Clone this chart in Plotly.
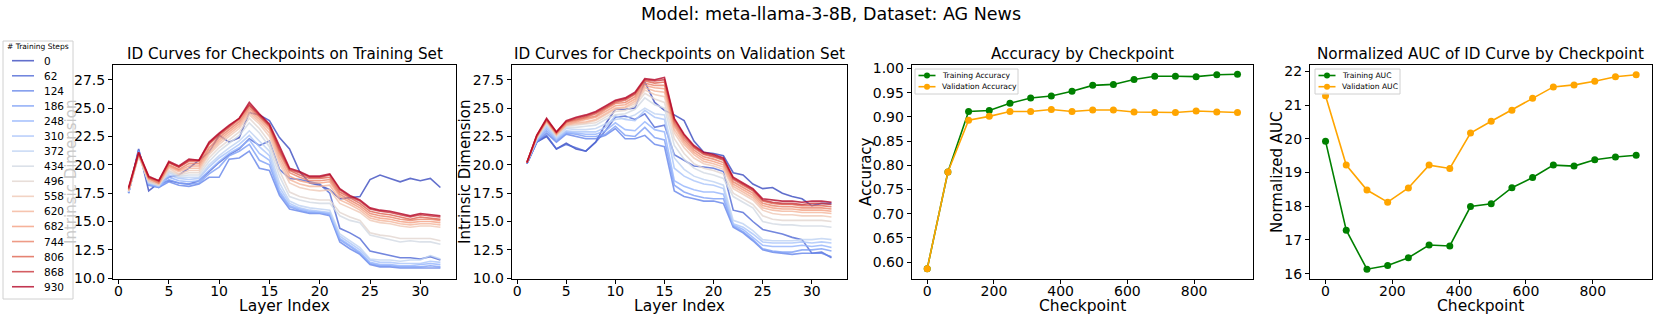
import plotly.graph_objects as go
from plotly.colors import sample_colorscale

W, H = 1661, 332

steps = [0, 62, 124, 186, 248, 310, 372, 434, 496, 558, 620, 682, 744, 806, 868, 930]
layers = list(range(1, 33))

# ID curves, training set (one list per checkpoint)
train_0 = [17.5, 21.4, 17.7, 18.4, 18.9, 19.1, 19.7, 20.4, 21.1, 22.6, 22.0, 22.4, 24.6, 24.4, 23.9, 22.4, 21.4, 19.4, 18.4, 18.2, 17.8, 17.0, 17.1, 17.2, 18.7, 19.1, 18.8, 18.5, 18.8, 18.6, 18.8, 18.0]
train_62 = [17.6, 21.2, 18.5, 18.3, 18.6, 18.4, 18.3, 18.6, 19.4, 20.2, 20.9, 21.4, 22.3, 21.7, 22.1, 19.6, 18.8, 18.7, 18.5, 18.3, 17.5, 14.4, 14.0, 13.5, 12.4, 12.2, 12.0, 11.8, 11.8, 11.7, 11.9, 11.6]
train_124 = [17.5, 21.3, 18.2, 18.0, 18.5, 18.2, 18.1, 18.3, 18.9, 18.9, 20.5, 20.6, 21.2, 19.7, 19.5, 17.3, 16.1, 15.9, 15.7, 15.7, 15.5, 13.2, 12.6, 12.1, 11.2, 11.0, 11.0, 10.9, 10.9, 10.9, 10.9, 10.9]
train_186 = [17.5, 21.2, 18.3, 18.0, 18.7, 18.4, 18.3, 18.4, 19.2, 19.8, 20.8, 21.2, 21.8, 20.4, 20.0, 17.5, 16.3, 16.0, 15.8, 15.8, 15.6, 13.4, 12.8, 12.2, 11.3, 11.1, 11.1, 11.0, 11.0, 11.0, 11.1, 11.0]
train_248 = [17.6, 21.1, 18.3, 18.1, 18.9, 18.6, 18.5, 18.6, 19.5, 20.3, 21.0, 21.5, 22.2, 21.0, 20.4, 17.7, 16.4, 16.1, 15.9, 15.8, 15.7, 13.5, 12.9, 12.3, 11.4, 11.2, 11.2, 11.1, 11.1, 11.2, 11.3, 11.2]
train_310 = [17.6, 21.0, 18.4, 18.1, 19.1, 18.8, 18.7, 18.8, 19.8, 20.6, 21.2, 21.8, 22.6, 21.6, 20.8, 18.0, 16.6, 16.2, 16.0, 15.9, 15.8, 13.7, 13.1, 12.5, 11.6, 11.4, 11.4, 11.3, 11.3, 11.3, 11.5, 11.4]
train_372 = [17.6, 20.9, 18.4, 18.2, 19.3, 18.9, 18.9, 18.9, 20.0, 20.8, 21.5, 22.1, 23.0, 22.1, 21.2, 18.4, 16.8, 16.4, 16.2, 16.1, 16.0, 13.9, 13.3, 12.7, 11.7, 11.6, 11.6, 11.5, 11.6, 11.6, 12.0, 11.7]
train_434 = [17.6, 20.8, 18.5, 18.2, 19.4, 19.0, 19.1, 19.1, 20.3, 21.2, 21.9, 22.6, 23.7, 22.8, 21.6, 19.0, 17.2, 16.9, 16.7, 16.6, 16.6, 15.5, 15.1, 14.9, 13.8, 13.6, 13.4, 13.2, 13.3, 13.2, 13.2, 13.0]
train_496 = [17.7, 20.8, 18.5, 18.2, 19.5, 19.1, 19.3, 19.3, 20.6, 21.5, 22.2, 22.9, 24.1, 23.2, 22.0, 19.5, 17.6, 17.2, 17.0, 16.9, 16.9, 15.8, 15.4, 15.1, 14.0, 13.8, 13.7, 13.5, 13.5, 13.5, 13.5, 13.3]
train_558 = [17.7, 20.8, 18.6, 18.3, 19.7, 19.2, 19.5, 19.5, 20.9, 21.8, 22.5, 23.2, 24.4, 23.6, 22.5, 20.1, 18.4, 18.0, 17.8, 17.7, 17.8, 16.6, 16.2, 15.8, 15.1, 14.9, 14.8, 14.6, 14.5, 14.6, 14.6, 14.5]
train_620 = [17.7, 20.9, 18.7, 18.3, 19.8, 19.4, 19.7, 19.7, 21.1, 22.0, 22.7, 23.4, 24.6, 23.8, 22.8, 20.4, 18.7, 18.3, 18.1, 18.1, 18.2, 16.9, 16.5, 16.0, 15.3, 15.1, 15.0, 14.8, 14.7, 14.8, 14.8, 14.7]
train_682 = [17.8, 20.9, 18.8, 18.4, 19.9, 19.5, 19.9, 19.9, 21.3, 22.2, 22.9, 23.6, 24.8, 24.0, 23.1, 20.7, 19.0, 18.6, 18.4, 18.4, 18.5, 17.2, 16.7, 16.2, 15.5, 15.3, 15.2, 15.0, 14.9, 15.0, 15.0, 14.9]
train_744 = [17.8, 21.0, 18.8, 18.4, 20.0, 19.6, 20.1, 20.1, 21.5, 22.4, 23.1, 23.8, 25.0, 24.2, 23.3, 21.0, 19.3, 18.9, 18.6, 18.6, 18.7, 17.4, 16.9, 16.4, 15.7, 15.5, 15.4, 15.2, 15.1, 15.2, 15.2, 15.1]
train_806 = [17.9, 21.0, 18.9, 18.5, 20.2, 19.8, 20.3, 20.3, 21.8, 22.6, 23.3, 24.0, 25.2, 24.3, 23.4, 21.2, 19.5, 19.1, 18.8, 18.8, 18.9, 17.6, 17.1, 16.6, 15.9, 15.7, 15.6, 15.4, 15.2, 15.4, 15.3, 15.2]
train_868 = [17.9, 21.1, 18.9, 18.6, 20.2, 19.8, 20.4, 20.4, 21.9, 22.7, 23.4, 24.1, 25.3, 24.4, 23.5, 21.4, 19.6, 19.3, 18.9, 18.9, 19.1, 17.8, 17.2, 16.8, 16.1, 15.9, 15.8, 15.6, 15.4, 15.6, 15.5, 15.4]
train_930 = [18.0, 21.1, 19.0, 18.6, 20.3, 19.9, 20.5, 20.4, 22.0, 22.8, 23.5, 24.1, 25.5, 24.5, 23.6, 21.6, 19.7, 19.4, 19.0, 19.0, 19.2, 17.9, 17.3, 16.9, 16.2, 16.0, 15.9, 15.7, 15.5, 15.7, 15.6, 15.5]

# ID curves, validation set
val_0 = [20.1, 22.0, 22.5, 21.4, 21.9, 21.4, 21.2, 22.0, 23.6, 24.9, 24.9, 25.0, 27.3, 25.5, 24.8, 24.4, 23.9, 22.1, 21.1, 21.0, 20.8, 19.3, 19.1, 18.3, 17.9, 18.0, 17.5, 17.2, 17.0, 16.4, 16.6, 16.6]
val_62 = [20.1, 22.0, 22.6, 21.4, 21.8, 21.5, 21.2, 22.0, 23.0, 24.2, 24.3, 24.0, 24.5, 23.3, 23.5, 20.9, 20.4, 19.9, 19.8, 19.7, 19.4, 16.0, 15.8, 15.0, 14.3, 14.1, 13.9, 13.6, 13.4, 12.2, 12.3, 11.8]
val_124 = [20.1, 22.0, 22.8, 22.0, 22.7, 22.5, 22.3, 22.3, 22.6, 23.2, 22.3, 22.3, 22.6, 21.8, 21.6, 17.7, 17.2, 17.0, 16.8, 16.8, 16.6, 14.5, 14.0, 13.3, 12.5, 12.3, 12.2, 12.1, 12.2, 12.2, 12.2, 11.9]
val_186 = [20.1, 22.1, 23.0, 22.1, 22.8, 22.7, 22.5, 22.5, 22.7, 23.4, 22.6, 22.5, 23.3, 22.4, 22.2, 18.2, 17.6, 17.3, 17.1, 17.0, 17.0, 14.6, 14.1, 13.4, 12.6, 12.4, 12.3, 12.3, 12.5, 12.5, 12.6, 12.4]
val_248 = [20.2, 22.1, 23.2, 22.2, 22.9, 22.8, 22.7, 22.7, 23.0, 23.7, 23.1, 23.0, 23.8, 23.1, 22.9, 18.6, 18.1, 17.8, 17.6, 17.6, 17.4, 14.7, 14.3, 13.6, 12.9, 12.8, 12.8, 12.8, 12.9, 12.8, 12.9, 12.7]
val_310 = [20.2, 22.2, 23.4, 22.3, 23.0, 22.9, 22.9, 22.9, 23.3, 24.3, 24.0, 23.9, 24.8, 24.2, 24.0, 19.7, 19.0, 18.6, 18.3, 18.2, 17.9, 14.8, 14.5, 13.9, 13.2, 13.1, 13.1, 13.1, 13.2, 13.1, 13.2, 13.1]
val_372 = [20.2, 22.3, 23.5, 22.4, 23.2, 23.1, 23.1, 23.2, 23.6, 24.0, 24.1, 24.4, 25.0, 24.5, 24.4, 20.6, 19.6, 19.0, 18.7, 18.5, 18.2, 15.1, 14.8, 14.2, 13.4, 13.3, 13.3, 13.3, 13.4, 13.4, 13.5, 13.4]
val_434 = [20.2, 22.3, 23.6, 22.5, 23.3, 23.3, 23.4, 23.5, 24.0, 24.4, 24.5, 24.9, 25.9, 25.3, 25.0, 21.7, 20.5, 19.7, 19.3, 19.1, 18.8, 17.2, 16.7, 16.2, 15.0, 14.8, 14.7, 14.7, 14.6, 14.6, 14.6, 14.5]
val_496 = [20.2, 22.4, 23.7, 22.6, 23.4, 23.5, 23.6, 23.7, 24.2, 24.7, 24.8, 25.2, 26.3, 25.8, 25.5, 22.3, 21.0, 20.1, 19.7, 19.5, 19.2, 17.5, 17.0, 16.5, 15.5, 15.2, 15.1, 15.1, 15.1, 15.1, 15.1, 15.0]
val_558 = [20.2, 22.4, 23.8, 22.6, 23.5, 23.6, 23.7, 23.9, 24.4, 24.9, 25.0, 25.4, 26.6, 26.2, 26.0, 22.8, 21.5, 20.6, 20.1, 19.9, 19.6, 17.9, 17.4, 16.9, 16.0, 15.7, 15.6, 15.6, 15.5, 15.5, 15.5, 15.4]
val_620 = [20.2, 22.4, 23.8, 22.7, 23.5, 23.7, 23.8, 24.0, 24.5, 25.0, 25.1, 25.6, 26.8, 26.5, 26.4, 23.1, 21.8, 20.9, 20.3, 20.1, 19.8, 18.1, 17.6, 17.1, 16.2, 16.0, 15.9, 15.9, 15.8, 15.8, 15.8, 15.7]
val_682 = [20.2, 22.5, 23.9, 22.7, 23.6, 23.8, 24.0, 24.2, 24.7, 25.2, 25.3, 25.8, 27.0, 26.8, 26.7, 23.4, 22.0, 21.1, 20.5, 20.3, 20.0, 18.3, 17.8, 17.3, 16.4, 16.2, 16.1, 16.1, 16.0, 16.0, 16.0, 15.9]
val_744 = [20.2, 22.5, 23.9, 22.8, 23.7, 23.9, 24.1, 24.3, 24.9, 25.4, 25.5, 26.0, 27.2, 27.0, 27.0, 23.6, 22.2, 21.3, 20.7, 20.5, 20.2, 18.5, 18.0, 17.5, 16.6, 16.4, 16.3, 16.3, 16.2, 16.2, 16.2, 16.1]
val_806 = [20.2, 22.5, 24.0, 22.8, 23.8, 24.0, 24.2, 24.5, 25.0, 25.5, 25.7, 26.2, 27.4, 27.2, 27.3, 23.8, 22.4, 21.5, 20.9, 20.7, 20.4, 18.7, 18.2, 17.7, 16.8, 16.6, 16.5, 16.5, 16.4, 16.4, 16.4, 16.3]
val_868 = [20.2, 22.6, 24.0, 22.9, 23.8, 24.1, 24.3, 24.6, 25.1, 25.6, 25.8, 26.3, 27.5, 27.4, 27.5, 24.0, 22.6, 21.6, 21.0, 20.8, 20.5, 18.8, 18.3, 17.8, 16.9, 16.7, 16.6, 16.6, 16.5, 16.6, 16.6, 16.5]
val_930 = [20.2, 22.6, 24.1, 22.9, 23.9, 24.2, 24.4, 24.7, 25.2, 25.7, 25.9, 26.4, 27.6, 27.5, 27.7, 24.1, 22.7, 21.7, 21.1, 20.9, 20.6, 18.9, 18.4, 17.9, 17.0, 16.9, 16.8, 16.8, 16.7, 16.8, 16.8, 16.7]

train_curves = [train_0, train_62, train_124, train_186, train_248, train_310, train_372, train_434,
                train_496, train_558, train_620, train_682, train_744, train_806, train_868, train_930]
val_curves = [val_0, val_62, val_124, val_186, val_248, val_310, val_372, val_434,
              val_496, val_558, val_620, val_682, val_744, val_806, val_868, val_930]

# accuracy / AUC by checkpoint
train_acc = [0.586, 0.786, 0.911, 0.913, 0.928, 0.939, 0.943, 0.953, 0.965, 0.967, 0.977, 0.984, 0.984, 0.983, 0.987, 0.988]
val_acc = [0.586, 0.786, 0.893, 0.901, 0.911, 0.911, 0.915, 0.911, 0.914, 0.914, 0.910, 0.909, 0.909, 0.912, 0.910, 0.909]
train_auc = [19.93, 17.29, 16.13, 16.24, 16.47, 16.85, 16.82, 17.99, 18.07, 18.55, 18.85, 19.22, 19.19, 19.38, 19.46, 19.51]
val_auc = [21.28, 19.22, 18.48, 18.12, 18.54, 19.22, 19.12, 20.17, 20.52, 20.85, 21.20, 21.54, 21.60, 21.71, 21.84, 21.90]

# matplotlib "coolwarm" anchor colours
coolwarm = [
    [0.0, "rgb(59,76,192)"], [0.125, "rgb(98,130,234)"], [0.25, "rgb(141,176,254)"],
    [0.375, "rgb(184,208,249)"], [0.5, "rgb(221,221,221)"], [0.625, "rgb(245,196,172)"],
    [0.75, "rgb(244,154,123)"], [0.875, "rgb(222,96,77)"], [1.0, "rgb(180,4,38)"],
]
colors = sample_colorscale(coolwarm, [i / (len(steps) - 1) for i in range(len(steps))])

FONT = "DejaVu Sans"


def px(x):
    return x / W


def py(y):
    return 1 - y / H


fig = go.Figure()

for c, ys in zip(colors, train_curves):
    fig.add_trace(go.Scatter(x=layers, y=ys, mode="lines", line=dict(color=c, width=1.6),
                             opacity=0.8, showlegend=False, xaxis="x", yaxis="y"))
for c, ys in zip(colors, val_curves):
    fig.add_trace(go.Scatter(x=layers, y=ys, mode="lines", line=dict(color=c, width=1.6),
                             opacity=0.8, showlegend=False, xaxis="x2", yaxis="y2"))

fig.add_trace(go.Scatter(x=steps, y=train_acc, mode="lines+markers", name="Training Accuracy",
                         line=dict(color="green", width=1.6), marker=dict(size=7),
                         showlegend=False, xaxis="x3", yaxis="y3"))
fig.add_trace(go.Scatter(x=steps, y=val_acc, mode="lines+markers", name="Validation Accuracy",
                         line=dict(color="orange", width=1.6), marker=dict(size=7),
                         showlegend=False, xaxis="x3", yaxis="y3"))
fig.add_trace(go.Scatter(x=steps, y=train_auc, mode="lines+markers", name="Training AUC",
                         line=dict(color="green", width=1.6), marker=dict(size=7),
                         showlegend=False, xaxis="x4", yaxis="y4"))
fig.add_trace(go.Scatter(x=steps, y=val_auc, mode="lines+markers", name="Validation AUC",
                         line=dict(color="orange", width=1.6), marker=dict(size=7),
                         showlegend=False, xaxis="x4", yaxis="y4"))

ax = dict(showline=True, mirror=True, linecolor="black", linewidth=1, ticks="outside",
          ticklen=4, tickwidth=1, tickcolor="black", showgrid=False, zeroline=False,
          automargin=False, tickfont=dict(size=14, color="black"))
xax = dict(ax, ticklabelstandoff=-5)
ydom = [py(279), py(65)]
xdoms = [(113, 456), (511.7, 846.7), (911.7, 1253), (1310, 1651.7)]

layer_ticks = [0, 5, 10, 15, 20, 25, 30]
id_ticks = [10, 12.5, 15, 17.5, 20, 22.5, 25, 27.5]
ckpt_ticks = [0, 200, 400, 600, 800]

fig.update_layout(
    width=W, height=H, margin=dict(l=0, r=0, t=0, b=0, autoexpand=False),
    paper_bgcolor="white", plot_bgcolor="white",
    font=dict(family=FONT, color="black"), showlegend=False,
    xaxis=dict(xax, domain=[px(xdoms[0][0]), px(xdoms[0][1])], range=[-0.55, 33.55], tickvals=layer_ticks, anchor="y"),
    yaxis=dict(ax, domain=ydom, range=[9.93, 28.8], tickvals=id_ticks, tickformat=".1f", anchor="x"),
    xaxis2=dict(xax, domain=[px(xdoms[1][0]), px(xdoms[1][1])], range=[-0.55, 33.55], tickvals=layer_ticks, anchor="y2"),
    yaxis2=dict(ax, domain=ydom, range=[9.93, 28.8], tickvals=id_ticks, tickformat=".1f", anchor="x2"),
    xaxis3=dict(xax, domain=[px(xdoms[2][0]), px(xdoms[2][1])], range=[-46.5, 976.5], tickvals=ckpt_ticks, anchor="y3"),
    yaxis3=dict(ax, domain=ydom, range=[0.5649, 1.0071], tickvals=[0.6, 0.65, 0.7, 0.75, 0.8, 0.85, 0.9, 0.95, 1.0],
                tickformat=".2f", anchor="x3"),
    xaxis4=dict(xax, domain=[px(xdoms[3][0]), px(xdoms[3][1])], range=[-46.5, 976.5], tickvals=ckpt_ticks, anchor="y4"),
    yaxis4=dict(ax, domain=ydom, range=[15.84, 22.19], tickvals=[16, 17, 18, 19, 20, 21, 22], anchor="x4"),
)

annotations = [dict(text="Model: meta-llama-3-8B, Dataset: AG News", x=0.5, y=py(14), xref="paper", yref="paper",
                    showarrow=False, xanchor="center", yanchor="middle", font=dict(size=17.5))]
titles = ["ID Curves for Checkpoints on Training Set", "ID Curves for Checkpoints on Validation Set",
          "Accuracy by Checkpoint", "Normalized AUC of ID Curve by Checkpoint"]
for t, (a, b) in zip(titles, xdoms):
    annotations.append(dict(text=t, x=px((a + b) / 2), y=py(54), xref="paper", yref="paper", showarrow=False,
                            xanchor="center", yanchor="middle", font=dict(size=15.2)))

# axis titles placed like matplotlib's labelpad
x_titles = ["Layer Index", "Layer Index", "Checkpoint", "Checkpoint"]
for t, (a, b) in zip(x_titles, xdoms):
    annotations.append(dict(text=t, x=px((a + b) / 2), y=py(306), xref="paper", yref="paper", showarrow=False,
                            xanchor="center", yanchor="middle", font=dict(size=15.5)))
y_titles = [("Intrinsic Dimension", 71, "#c8c8c8"), ("Intrinsic Dimension", 465, "black"),
            ("Accuracy", 866, "black"), ("Normalized AUC", 1277, "black")]
for t, xx, col in y_titles:
    annotations.append(dict(text=t, x=px(xx), y=py(172), xref="paper", yref="paper", showarrow=False,
                            textangle=-90, xanchor="center", yanchor="middle", font=dict(size=15, color=col)))

# checkpoint legend drawn by hand so the rows can be as tight as the original
shapes = [dict(type="rect", xref="paper", yref="paper", x0=px(3), x1=px(73), y0=py(299), y1=py(41),
               line=dict(color="#d0d0d0", width=1), fillcolor="rgba(255,255,255,0.8)", layer="above")]
annotations.append(dict(text="# Training Steps", x=px(38), y=py(47), xref="paper", yref="paper", showarrow=False,
                        xanchor="center", yanchor="middle", font=dict(size=7.5)))
for i, (s, c) in enumerate(zip(steps, colors)):
    yy = 60.7 + 15.07 * i
    shapes.append(dict(type="line", xref="paper", yref="paper", x0=px(12), x1=px(34), y0=py(yy), y1=py(yy),
                       line=dict(color=c, width=1.6), opacity=0.8, layer="above"))
    annotations.append(dict(text=str(s), x=px(42), y=py(yy), xref="paper", yref="paper", showarrow=False,
                            xanchor="left", yanchor="middle", font=dict(size=10.5)))

# small legends for the accuracy / AUC panels (matplotlib-sized, tighter than plotly's)
small_legends = [
    (915, 1018, ["Training Accuracy", "Validation Accuracy"]),
    (1315, 1400, ["Training AUC", "Validation AUC"]),
]
for left, right, names in small_legends:
    shapes.append(dict(type="rect", xref="paper", yref="paper", x0=px(left), x1=px(right), y0=py(94), y1=py(69),
                       line=dict(color="#d0d0d0", width=1), fillcolor="rgba(255,255,255,0.8)", layer="above"))
    for j, (nm, col) in enumerate(zip(names, ["green", "orange"])):
        yy = 75.5 + 11.2 * j
        cx = left + 12
        shapes.append(dict(type="line", xref="paper", yref="paper", x0=px(left + 3.5), x1=px(left + 20.5),
                           y0=py(yy), y1=py(yy), line=dict(color=col, width=1.6), layer="above"))
        shapes.append(dict(type="circle", xref="paper", yref="paper", x0=px(cx - 3), x1=px(cx + 3),
                           y0=py(yy + 3), y1=py(yy - 3), line=dict(color=col, width=0), fillcolor=col,
                           layer="above"))
        annotations.append(dict(text=nm, x=px(left + 25), y=py(yy), xref="paper", yref="paper", showarrow=False,
                                xanchor="left", yanchor="middle", font=dict(size=7.6)))

fig.update_layout(annotations=annotations, shapes=shapes)

fig.write_html("out.html", config={"displayModeBar": False},
               post_script="document.body.style.margin='0';")
